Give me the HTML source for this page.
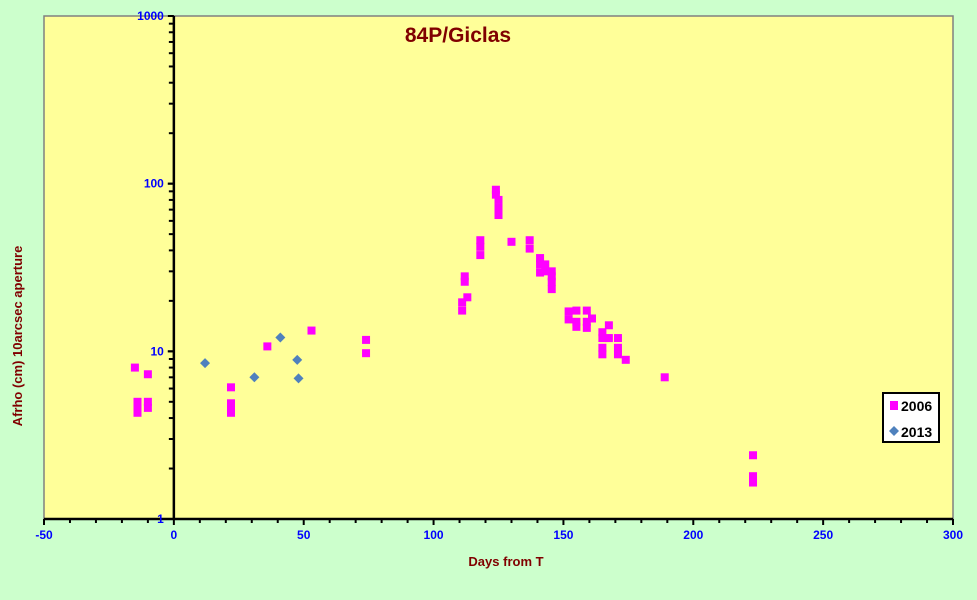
<!DOCTYPE html>
<html><head><meta charset="utf-8"><style>
body{margin:0;background:#ccffcc;font-family:"Liberation Sans",sans-serif;}
svg{display:block}
</style></head><body>
<svg id="chart" width="977" height="600" xmlns="http://www.w3.org/2000/svg">
<rect x="0" y="0" width="977" height="600" fill="#ccffcc"/>
<rect x="44" y="16" width="909" height="503" fill="#ffff99" stroke="#808080" stroke-width="1.5"/>
<g id="axes"></g>
<g id="marks"></g>
<text x="458" y="42" text-anchor="middle" font-size="21" font-weight="bold" fill="#800000">84P/Giclas</text>
<text x="506" y="566" text-anchor="middle" font-size="13" font-weight="bold" fill="#800000">Days from  T</text>
<text transform="translate(22,336) rotate(-90)" text-anchor="middle" font-size="13" font-weight="bold" fill="#800000">Afrho (cm) 10arcsec aperture</text>
<g>
<rect x="883" y="393" width="56" height="49" fill="#fff" stroke="#000" stroke-width="2"/>
<rect x="890" y="401" width="8" height="9" fill="#ff00ff"/>
<text x="901" y="411" font-size="14" font-weight="bold">2006</text>
<path d="M894,426 l5,5 l-5,5 l-5,-5z" fill="#4f81bd"/>
<text x="901" y="437" font-size="14" font-weight="bold">2013</text>
</g>
</svg>
<script>
const days2006=[-15,-10,-14,-14,-14,-10,-10,22,22,22,22,36,53,74,74,111,111,112,112,113,118,118,118,124,124,125,125,125,130,137,137,141,141,141,143,143,145.5,145.5,145.5,145.5,152,152,155,155,155,159,159,159,161,165,165,165,165,167.5,167.5,171,171,171,174,189,223,223,223];
const afrho2006=[8.0,7.3,5.0,4.6,4.3,5.0,4.6,6.1,4.9,4.6,4.3,10.7,13.3,11.7,9.75,19.6,17.5,28,26,21,46,42,37.5,92,86,80,72,65,45,46,41,36,33,29.5,33,30,30,28,26,23.5,17.3,15.5,17.5,15,14,17.5,15,13.8,15.7,13,12,10.5,9.6,14.3,12,12,10.5,9.6,8.9,7,2.4,1.8,1.65];
const days2013=[12,31,41,47.5,48];
const afrho2013=[8.5,7.0,12.1,8.9,6.9];
const xTicks=[-50,0,50,100,150,200,250,300];
const yTicks=[1,10,100,1000];
const NS="http://www.w3.org/2000/svg";
const X0=44,X1=953,Y0=519,Y1=16;
function xs(v){return X0+(v+50)/350*(X1-X0);}
function ys(v){return Y0-(Math.log10(v)/3)*(Y0-Y1);}
function mk(t,a,p){const e=document.createElementNS(NS,t);for(const k in a)e.setAttribute(k,a[k]);p.appendChild(e);return e;}
const ax=document.getElementById('axes'),mg=document.getElementById('marks');
const yl=mk('line',{x1:xs(0),x2:xs(0),y1:Y1,y2:Y0,stroke:'#000','stroke-width':2.5},ax);


const xl=mk('line',{x1:X0,x2:X1,y1:Y0,y2:Y0,stroke:'#000','stroke-width':2.5},ax);


for(let d=0;d<3;d++)for(let m=1;m<=10;m++){const v=Math.pow(10,d)*m;const y=ys(v);
 mk('line',{x1:xs(0)-(m==10||m==1?6:5),x2:xs(0),y1:y,y2:y,stroke:'#000','stroke-width':2},ax);}
for(let v=-50;v<=300;v+=10){const x=xs(v);mk('line',{x1:x,x2:x,y1:Y0,y2:Y0+(v%50==0?6:4),stroke:'#000','stroke-width':2},ax);}
xTicks.forEach(v=>{const t=mk('text',{x:xs(v),y:Y0+20,'text-anchor':'middle','font-size':12,'font-weight':'bold',fill:'#0000ff'},ax);t.textContent=v;

});
yTicks.forEach(v=>{const t=mk('text',{x:xs(0)-10,y:ys(v)+4,'text-anchor':'end','font-size':12,'font-weight':'bold',fill:'#0000ff'},ax);t.textContent=v;

});
days2006.forEach((d,i)=>{const r=mk('rect',{x:xs(d)-4,y:ys(afrho2006[i])-4,width:8,height:8,fill:'#ff00ff'},mg);

});
days2013.forEach((d,i)=>{const x=xs(d),y=ys(afrho2013[i]);const p=mk('path',{d:`M${x},${y-5} l5,5 l-5,5 l-5,-5z`,fill:'#4f81bd'},mg);

});
</script>
</body></html>
